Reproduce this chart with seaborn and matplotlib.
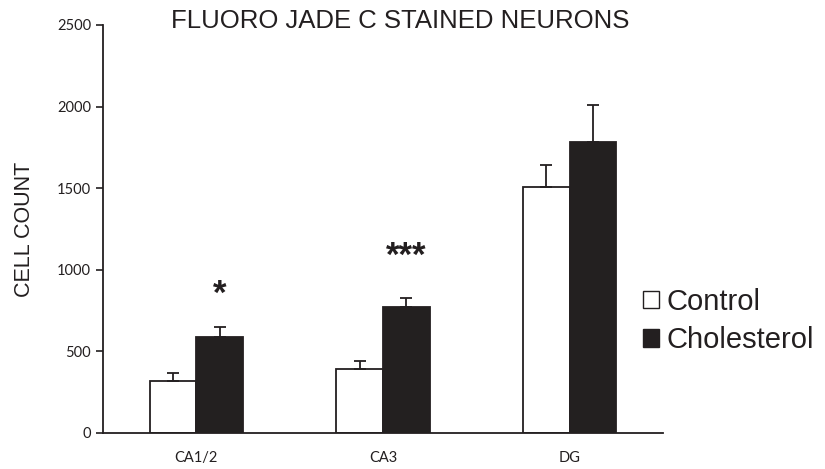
import pandas as pd
import seaborn as sns
import matplotlib.pyplot as plt
from matplotlib.patches import Patch

regions = ['CA1/2', 'CA3', 'DG']
groups = ['Control', 'Cholesterol']
control_mean = [320, 392, 1507]
control_sem = [50, 50, 135]
chol_mean = [590, 772, 1783]
chol_sem = [60, 55, 227]
stars = ['*', '***', '']
star_y = [850, 1085, 0]

df = pd.DataFrame({
    'region': regions * 2,
    'group': ['Control'] * 3 + ['Cholesterol'] * 3,
    'count': control_mean + chol_mean,
    'sem': control_sem + chol_sem,
})

sns.set_theme(style='white')
plt.rcParams['font.family'] = ['Liberation Sans', 'DejaVu Sans']

fig = plt.figure(figsize=(8.25, 4.69), dpi=100)
ax = fig.add_axes([0.1248, 0.0768, 0.6788, 0.8699])

dark = '#231f20'
sns.barplot(data=df, x='region', y='count', hue='group', hue_order=groups,
            palette={'Control': 'white', 'Cholesterol': dark},
            width=0.5, gap=0, errorbar=None, legend=False, ax=ax,
            edgecolor=dark, linewidth=1.3)

# upward-only error bars at bar centres
for cont, g in zip(ax.containers, groups):
    sub = df[df['group'] == g]
    xs = [p.get_x() + p.get_width() / 2 for p in cont.patches]
    ax.errorbar(xs, sub['count'], yerr=[[0] * len(xs), sub['sem']],
                fmt='none', ecolor=dark, elinewidth=1.3, capsize=4.5, capthick=1.3)

# significance stars above cholesterol bars
chol_patches = ax.containers[1].patches
for p, s, sy in zip(chol_patches, stars, star_y):
    if s:
        ax.text(p.get_x() + p.get_width() / 2, sy, s, ha='center', va='center',
                fontsize=25, fontweight='bold', color=dark)

ax.set_xlim(-0.5, 2.5)
ax.set_ylim(0, 2500)
ax.set_yticks([0, 500, 1000, 1500, 2000, 2500])
for sp in ['top', 'right']:
    ax.spines[sp].set_visible(False)
for sp in ['left', 'bottom']:
    ax.spines[sp].set_color(dark)
    ax.spines[sp].set_linewidth(1.3)
ax.tick_params(axis='y', left=True, length=5, width=1.2, color=dark, labelsize=10.5,
               labelcolor=dark, pad=3.5)
ax.tick_params(axis='x', bottom=False, labelsize=10.5, labelcolor=dark, pad=7)
for lab in ax.get_yticklabels() + ax.get_xticklabels():
    lab.set_family(['Lato', 'DejaVu Sans'])
ax.set_xlabel('')
ax.set_ylabel('CELL COUNT', fontsize=15.5, color=dark)
ax.yaxis.set_label_coords(-0.121, 0.5)

fig.text(0.485, 0.955, 'FLUORO JADE C STAINED NEURONS', ha='center', va='center',
         fontsize=18.5, color=dark)

handles = [Patch(facecolor='white', edgecolor=dark, linewidth=1),
           Patch(facecolor=dark, edgecolor=dark, linewidth=1)]
fig.legend(handles, groups, loc='center left', bbox_to_anchor=(0.779, 0.3156),
           frameon=False, fontsize=21, handlelength=0.55, handleheight=0.55,
           handletextpad=0.28, labelspacing=0.35, labelcolor=dark,
           borderpad=0, borderaxespad=0)

fig.savefig('out.png', dpi=100)
